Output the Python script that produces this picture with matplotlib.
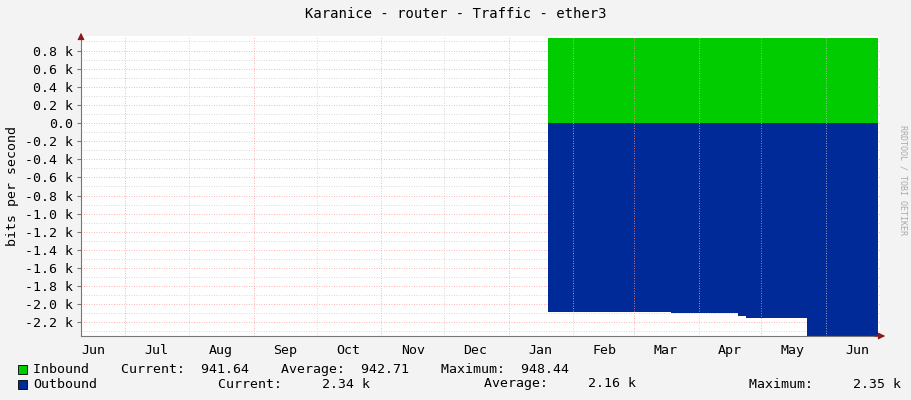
import matplotlib
matplotlib.use("Agg")
import matplotlib.pyplot as plt
import matplotlib.dates as mdates
import numpy as np
import datetime as dt

start = dt.datetime(2023, 6, 10)
end = dt.datetime(2024, 6, 27)
# step data (date, inbound bits/s, outbound bits/s)
seg_dates = ["2024-01-20", "2024-03-19", "2024-04-20", "2024-04-24", "2024-05-22", "2024-05-23", "2024-06-26"]
inbound = [942, 943, 942, 943, 942, 941, 941]
outbound = [2090, 2100, 2130, 2150, 2150, 2350, 2350]

d = [dt.datetime.fromisoformat(s) for s in seg_dates]

fig = plt.figure(figsize=(9.11, 4.0), dpi=100, facecolor="#f3f3f3")
ax = fig.add_axes([81/911, 64/400, 799/911, 300/400])
ax.set_facecolor("white")
ax.fill_between(d, 0, inbound, step="post", color="#00cc00", lw=0)
ax.fill_between(d, 0, [-v for v in outbound], step="post", color="#002a97", lw=0)
ax.set_xlim(start, end)
ax.set_ylim(-2.35, 0.96)
# scale to k
for coll in ax.collections:
    pass
ax.cla()
ax.set_facecolor("white")
ax.fill_between(d, 0, [v/1000 for v in inbound], step="post", color="#00cc00", lw=0)
ax.fill_between(d, 0, [-v/1000 for v in outbound], step="post", color="#002a97", lw=0)
ax.set_xlim(start, end)
ax.set_ylim(-2.35, 0.96)

yt = np.round(np.arange(-2.2, 0.81, 0.2), 1)
ax.set_yticks(yt)
ax.set_yticklabels(["0.0" if abs(v) < 1e-9 else f"{v:.1f} k" for v in yt],
                   family="DejaVu Sans Mono", fontsize=9.5)
for v in np.arange(-2.3, 0.95, 0.1):
    if round(v*10) % 2 == 0:
        ax.axhline(v, color="#ff9999", lw=0.6, ls=(0, (1, 2)), zorder=0.5)
    else:
        ax.axhline(v, color="#cccccc", lw=0.6, ls=(0, (1, 2)), zorder=0.5)
months = [dt.datetime(2023, m, 1) for m in range(7, 13)] + [dt.datetime(2024, m, 1) for m in range(1, 7)]
for i, m in enumerate(months):
    col = "#ff9999" if m.month % 2 == 1 else "#cccccc"
    ax.axvline(m, color=col, lw=0.6, ls=(0, (1, 2)), zorder=2.5)
mids = [dt.datetime(2023, 6, 16)] + [m + dt.timedelta(days=15) for m in months]
ax.set_xticks(mids)
ax.set_xticklabels([m.strftime("%b") for m in mids], family="DejaVu Sans Mono", fontsize=9.5)
ax.tick_params(axis="x", length=0, pad=6)
ax.tick_params(axis="y", length=3, color="#777777", pad=3)
for s in ["top", "right"]:
    ax.spines[s].set_visible(False)
ax.spines["left"].set_color("#777777")
ax.spines["bottom"].set_color("#777777")
ax.set_ylabel("bits per second", family="DejaVu Sans Mono", fontsize=9.5)
ax.annotate("", xy=(1.01, 0), xycoords="axes fraction", xytext=(0.99, 0),
            arrowprops=dict(arrowstyle="-|>", color="#8b1a1a", lw=0.8))
ax.annotate("", xy=(0, 1.02), xycoords="axes fraction", xytext=(0, 0.99),
            arrowprops=dict(arrowstyle="-|>", color="#8b1a1a", lw=0.8))

fig.text(0.5, 1 - 14/400, "Karanice - router - Traffic - ether3", ha="center", va="center",
         family="DejaVu Sans Mono", fontsize=10)
fig.text(903/911, 0.5 + 0.05, "RRDTOOL / TOBI OETIKER", rotation=270, ha="center", va="center",
         family="DejaVu Sans Mono", fontsize=6, color="#aaaaaa")
mono = dict(family="DejaVu Sans Mono", fontsize=9.5, va="center")
fig.patches.append(plt.Rectangle((18/911, 1-374/400), 9/911, 9/400, transform=fig.transFigure,
                                 facecolor="#00cc00", edgecolor="black", lw=0.6))
fig.patches.append(plt.Rectangle((18/911, 1-389/400), 9/911, 9/400, transform=fig.transFigure,
                                 facecolor="#002a97", edgecolor="black", lw=0.6))
fig.text(33/911, 1-369/400, "Inbound    Current:  941.64    Average:  942.71    Maximum:  948.44", **mono)
fig.text(33/911, 1-384/400, "Outbound", **mono)
fig.text(218/911, 1-384/400, "Current:     2.34 k", **mono)
fig.text(484/911, 1-384/400, "Average:     2.16 k", **mono)
fig.text(749/911, 1-384/400, "Maximum:     2.35 k", **mono)
fig.savefig("out.png", dpi=100, facecolor=fig.get_facecolor())
